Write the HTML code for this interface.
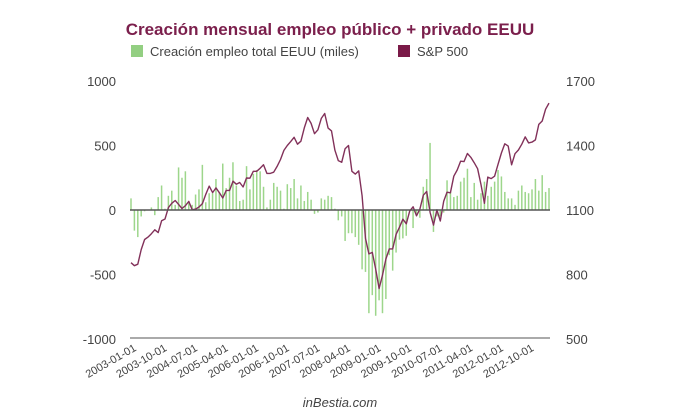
<!DOCTYPE html>
<html><head><meta charset="utf-8"><style>
body{margin:0;background:#fff;}
svg{display:block;font-family:"Liberation Sans",sans-serif;}
</style></head><body>
<svg id="chart" width="680" height="420">
<text x="330" y="35" text-anchor="middle" font-size="17" font-weight="bold" fill="#7b1f4c">Creación mensual empleo público + privado EEUU</text>
<g>
<rect x="131" y="45" width="12" height="12" fill="#93cf82"/>
<text x="150" y="56" font-size="13" fill="#444">Creación empleo total EEUU (miles)</text>
<rect x="398" y="45" width="12" height="12" fill="#7a1a48"/>
<text x="417" y="56" font-size="13" fill="#444">S&amp;P 500</text>
</g>
<g id="grid"></g>
<g id="bars"></g>
<g id="line"></g>
<g id="axes"></g>
<text x="340" y="407" text-anchor="middle" font-size="13" font-style="italic" fill="#444">inBestia.com</text>
</svg>
<script>
const jobs=[90,-160,-210,-50,-10,0,20,-40,100,190,10,110,
150,40,330,250,300,70,40,120,160,350,60,130,
130,240,140,360,170,250,370,190,70,80,340,160,
280,310,300,180,20,80,210,180,150,10,200,170,
240,90,190,70,140,80,-30,-20,90,80,110,100,
10,-80,-50,-240,-180,-180,-210,-270,-460,-480,-800,-660,
-820,-700,-800,-690,-350,-470,-330,-230,-220,-200,-10,-140,
-40,-60,180,240,520,-170,-50,-50,-20,230,140,100,
110,220,250,320,100,210,80,130,220,110,180,220,
310,260,140,90,90,40,150,190,140,130,160,240,
150,270,140,170];
const sp500=[855,841,848,916,963,974,990,1008,995,1050,1058,1111,
1131,1144,1126,1107,1120,1140,1101,1104,1114,1130,1173,1211,
1181,1203,1180,1156,1191,1191,1234,1220,1228,1207,1249,1248,
1280,1280,1294,1310,1270,1270,1276,1303,1335,1377,1400,1418,
1438,1406,1420,1482,1530,1503,1455,1473,1526,1549,1481,1468,
1378,1330,1322,1385,1400,1280,1267,1282,1166,968,896,903,
825,735,797,872,919,919,987,1020,1057,1036,1095,1115,
1073,1104,1169,1186,1089,1030,1101,1049,1141,1183,1180,1257,
1286,1327,1325,1363,1345,1320,1292,1218,1131,1253,1246,1257,
1312,1365,1408,1397,1310,1362,1379,1406,1440,1412,1416,1426,
1498,1514,1569,1597];
const leftTicks=[1000,500,0,-500,-1000];
const rightTicks=[1700,1400,1100,800,500];
const xLabels=["2003-01-01","2003-10-01","2004-07-01","2005-04-01","2006-01-01","2006-10-01","2007-07-01","2008-04-01","2009-01-01","2009-10-01","2010-07-01","2011-04-01","2012-01-01","2012-10-01"];
const ns="http://www.w3.org/2000/svg";
const x0=131,x1=549,yTop=81,yBot=339;
const n=jobs.length;
const xs=i=>x0+i*(x1-x0)/(n-1);
const yL=v=>yTop+(1000-v)*(yBot-yTop)/2000;
const yR=v=>yTop+(1700-v)*(yBot-yTop)/1200;
function mk(tag,attrs,parent){const e=document.createElementNS(ns,tag);for(const k in attrs)e.setAttribute(k,attrs[k]);document.getElementById(parent).appendChild(e);return e;}
jobs.forEach((v,i)=>{
 const y=yL(v),z=yL(0);
 const r=mk('rect',{x:xs(i)-0.75,y:Math.min(y,z),width:1.5,height:Math.abs(z-y),fill:'#9dd68b'},'bars');
 
 
});
let d='';
sp500.forEach((v,i)=>{d+=(i?'L':'M')+xs(i).toFixed(1)+' '+yR(v).toFixed(1);});
const p=mk('path',{d:d,fill:'none',stroke:'#82315a','stroke-width':1.4,'stroke-linejoin':'round'},'line');


const zl=mk('line',{x1:x0-1,x2:x1+1,y1:yL(0),y2:yL(0),stroke:'#555','stroke-width':1.5},'axes');


const bl=mk('line',{x1:x0-1,x2:x1+1,y1:yBot-1,y2:yBot-1,stroke:'#777','stroke-width':1.2},'axes');


leftTicks.forEach(v=>{
 const t=mk('text',{x:116,y:yL(v)+5,'text-anchor':'end','font-size':13,fill:'#444'},'axes');
 t.textContent=v;
 
 
});
rightTicks.forEach(v=>{
 const t=mk('text',{x:566,y:yR(v)+5,'font-size':13,fill:'#444'},'axes');
 t.textContent=v;
 
 
});
xLabels.forEach((s,k)=>{
 const x=xs(k*9)+6,y=350;
 const t=mk('text',{x:x,y:y,'text-anchor':'end','font-size':11,fill:'#444',transform:`rotate(-30 ${x} ${y})`},'axes');
 t.textContent=s;
 
 
});
</script>
</body></html>
